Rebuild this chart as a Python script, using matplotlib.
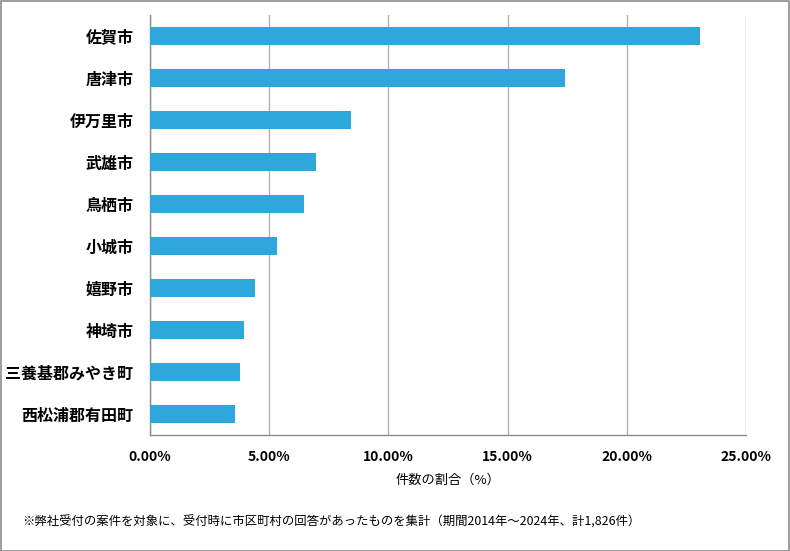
import matplotlib
matplotlib.use("Agg")
import matplotlib.pyplot as plt
from matplotlib.ticker import FuncFormatter, MultipleLocator
from matplotlib.patches import Rectangle

plt.rcParams['font.family'] = ['Noto Sans CJK JP', 'DejaVu Sans']

categories = ["佐賀市", "唐津市", "伊万里市", "武雄市", "鳥栖市", "小城市",
              "嬉野市", "神埼市", "三養基郡みやき町", "西松浦郡有田町"]
values = [23.06, 17.42, 8.43, 6.98, 6.46, 5.31, 4.40, 3.94, 3.78, 3.56]
xlabel = "件数の割合（%）"
footnote = "※弊社受付の案件を対象に、受付時に市区町村の回答があったものを集計（期間2014年～2024年、計1,826件）"

fig = plt.figure(figsize=(7.9, 5.51), dpi=100)
ax = fig.add_axes([150/790, (551-435)/551, (746-150)/790, (435-15)/551])

y = list(range(len(categories)))
ax.barh(y, values, height=0.43, color="#2EA7DD", zorder=3)
ax.set_ylim(len(categories) - 0.5, -0.5)
ax.set_xlim(0, 25)
ax.xaxis.set_major_locator(MultipleLocator(5))
ax.xaxis.set_major_formatter(FuncFormatter(lambda v, p: f"{v:.2f}%"))
ax.set_yticks(y)
ax.set_yticklabels(categories, fontsize=11.5, fontweight='bold')
for lbl in ax.get_xticklabels():
    lbl.set_fontweight('bold')
    lbl.set_fontsize(10)
ax.tick_params(axis='both', length=0)
ax.tick_params(axis='y', pad=12)
ax.tick_params(axis='x', pad=11)
ax.grid(axis='x', color="#b3b3b3", linewidth=1, zorder=0)
for s in ['top', 'right']:
    ax.spines[s].set_visible(False)
for s in ['left', 'bottom']:
    ax.spines[s].set_color("#8c8c8c")
    ax.spines[s].set_linewidth(1)
ax.set_xlabel(xlabel, fontsize=9.5, labelpad=7)

fig.text(22/790, 1 - 522/551, footnote, fontsize=8.9, va='center', ha='left')
fig.patches.append(Rectangle((0.5/790, 0.5/551), 1 - 1.5/790, 1 - 1.5/551,
                             transform=fig.transFigure, fill=False,
                             edgecolor="#8c8c8c", linewidth=1.2))
fig.savefig("out.png", dpi=100)
